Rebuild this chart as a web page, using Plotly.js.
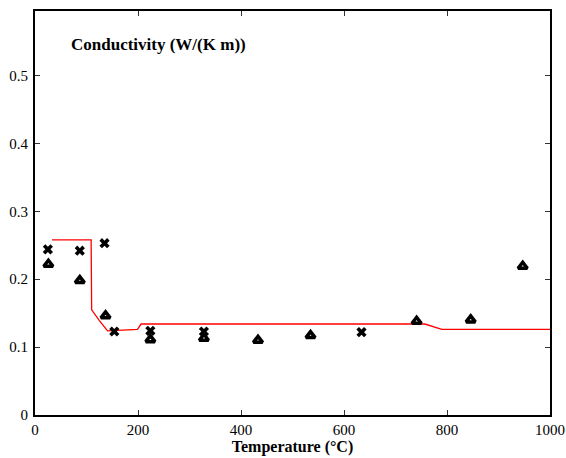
<!DOCTYPE html>
<html>
<head>
<meta charset="utf-8">
<script src="https://cdn.plot.ly/plotly-3.0.1.min.js"></script>
<style>
  html, body { margin: 0; padding: 0; background: #fff; }
  #chart { width: 566px; height: 458px; }
</style>
</head>
<body>
<div id="chart"></div>
<script>
// Model curve (conductivity vs temperature)
const modelTemp = [33, 109, 110, 125, 141, 199, 206, 757, 790, 1000];
const modelCond = [0.258, 0.258, 0.155, 0.139, 0.124, 0.126, 0.134, 0.134, 0.126, 0.126];

// Measured series, cross markers
const crossTemp = [25, 87, 135, 154, 224, 328, 634];
const crossCond = [0.244, 0.242, 0.253, 0.123, 0.124, 0.123, 0.122];

// Measured series, triangle markers
const triTemp = [26, 87, 137, 224, 328, 433, 535, 741, 846, 947];
const triCond = [0.222, 0.198, 0.146, 0.111, 0.113, 0.110, 0.117, 0.138, 0.140, 0.219];

const xTicks = [0, 200, 400, 600, 800, 1000];
const yTicks = [0, 0.1, 0.2, 0.3, 0.4, 0.5];
const yTickText = ['0', '0.1', '0.2', '0.3', '0.4', '0.5'];

const serif = 'Liberation Serif';

const traces = [
  {
    x: modelTemp, y: modelCond, type: 'scatter', mode: 'lines',
    line: { color: '#ff0000', width: 1.3 }, hoverinfo: 'skip'
  },
  {
    x: crossTemp, y: crossCond, type: 'scatter', mode: 'markers',
    marker: { symbol: 'x', size: 9, color: '#000' }
  },
  {
    x: triTemp, y: triCond, type: 'scatter', mode: 'markers',
    marker: { symbol: 'triangle-up', size: 8, color: '#fff', line: { color: '#000', width: 3.5 } }
  }
];

const axisCommon = {
  showgrid: false, zeroline: false,
  showline: true, linecolor: '#000', linewidth: 2,
  mirror: 'ticks', ticks: 'inside', ticklen: 5, tickwidth: 1, tickcolor: '#333',
  tickfont: { family: serif, size: 15, color: '#000' }
};

const layout = {
  width: 566, height: 458,
  margin: { l: 35, r: 16, t: 11, b: 43 },
  paper_bgcolor: '#fff', plot_bgcolor: '#fff',
  font: { family: serif, color: '#000' },
  showlegend: false,
  xaxis: Object.assign({}, axisCommon, {
    range: [0, 1000], tickvals: xTicks, ticktext: xTicks.map(String),
    title: { text: '<b>Temperature (°C)</b>', font: { family: serif, size: 16, color: '#000' }, standoff: 2 }
  }),
  yaxis: Object.assign({}, axisCommon, {
    range: [0, 0.595], tickvals: yTicks, ticktext: yTickText, ticklabelstandoff: 2
  }),
  annotations: [{
    text: '<b>Conductivity (W/(K m))</b>', xref: 'paper', yref: 'paper',
    x: 0.066, y: 0.916, xanchor: 'left', yanchor: 'middle', showarrow: false,
    font: { family: serif, size: 17, color: '#000' }
  }]
};

Plotly.newPlot('chart', traces, layout, { displayModeBar: false, staticPlot: true });
</script>
</body>
</html>
